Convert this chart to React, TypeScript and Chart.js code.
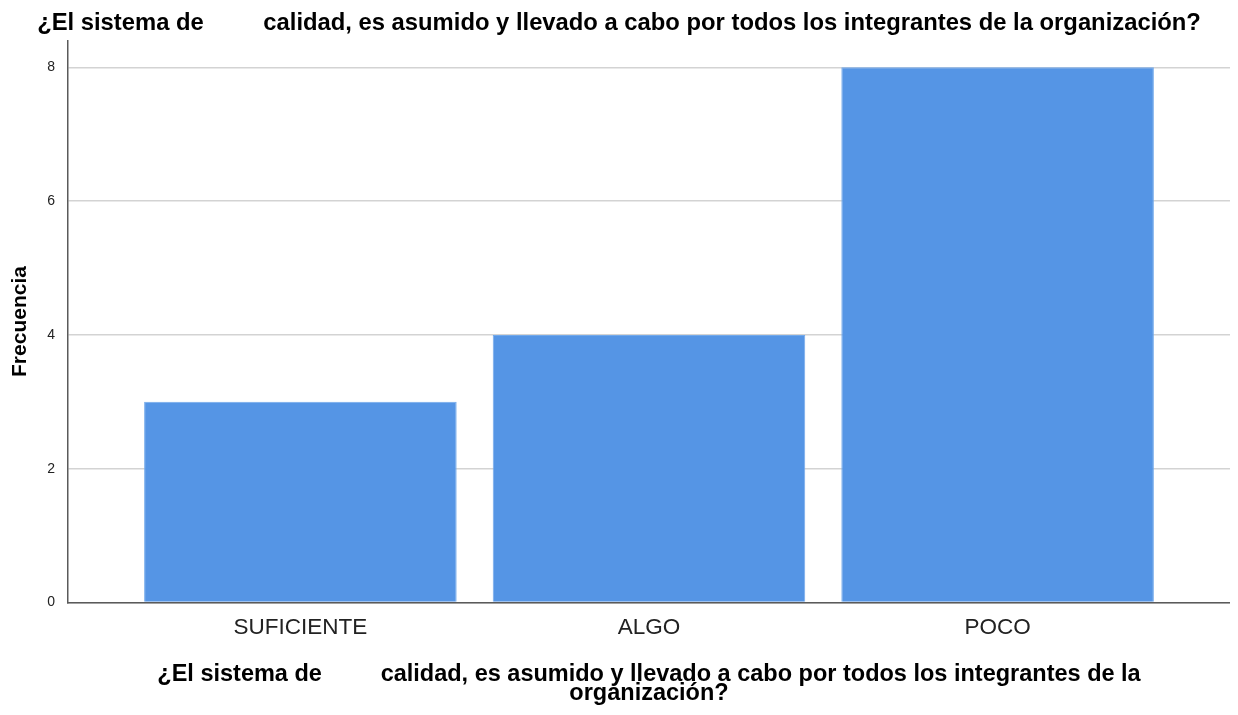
import React, { useEffect, useRef } from "react";
import { Chart, registerables } from "chart.js";

Chart.register(...registerables);

const categories: string[] = ["SUFICIENTE", "ALGO", "POCO"];
const frecuencias: number[] = [3, 4, 8];
const yTicks: number[] = [0, 2, 4, 6, 8];

const GAP = "\u00A0".repeat(9);
const titleText = "¿El sistema de" + GAP + "calidad, es asumido y llevado a cabo por todos los integrantes de la organización?";
const xTitleLines: string[] = [
  "¿El sistema de" + GAP + "calidad, es asumido y llevado a cabo por todos los integrantes de la",
  "organización?",
];
const yTitle = "Frecuencia";

const FONT = "Arial, 'Liberation Sans', Helvetica, sans-serif";

export default function App() {
  const ref = useRef<HTMLCanvasElement | null>(null);

  useEffect(() => {
    if (!ref.current) return;
    const chart = new Chart(ref.current, {
      type: "bar",
      data: {
        datasets: [
          {
            label: yTitle,
            data: categories.map((_, i) => ({ x: i, y: frecuencias[i] })),
            backgroundColor: "#5595e5",
            borderColor: "#72a9eb",
            borderWidth: 1,
            barPercentage: 312 / 348,
            categoryPercentage: 1,
          },
        ],
      },
      options: {
        animation: false,
        responsive: true,
        maintainAspectRatio: false,
        layout: { padding: { left: 0, right: 0, top: 0, bottom: 0 } },
        plugins: {
          legend: { display: false },
          tooltip: { enabled: false },
          title: {
            display: true,
            text: titleText,
            color: "#000",
            font: { family: FONT, size: 23.8, weight: "bold", lineHeight: 1.2 },
            padding: { top: 1, bottom: 3 },
          },
        },
        scales: {
          x: {
            type: "linear",
            offset: false,
            min: -0.5 - 58 / 348,
            max: categories.length - 0.5 + 58 / 348,
            afterBuildTicks: (scale: any) => {
              scale.ticks = categories.map((_, i) => ({ value: i }));
            },
            ticks: {
              autoSkip: false,
              maxRotation: 0,
              color: "#222",
              padding: 12,
              font: { family: FONT, size: 22.5 },
              callback: (v: any) => categories[Math.round(Number(v))] ?? "",
            },
            grid: { color: "rgba(0,0,0,0)", drawTicks: false, offset: false },
            border: { display: true, color: "#5a5a5a", width: 1.5 },
            title: {
              display: true,
              text: xTitleLines,
              color: "#000",
              font: { family: FONT, size: 23.5, weight: "bold", lineHeight: 0.82 },
              padding: { top: 11, bottom: 4 },
            },
          },
          y: {
            type: "linear",
            min: 0,
            max: 8.4,
            afterBuildTicks: (scale: any) => {
              scale.ticks = yTicks.map((v) => ({ value: v }));
            },
            ticks: {
              color: "#222",
              padding: 13,
              font: { family: FONT, size: 14 },
            },
            grid: { color: "#d3d3d3", lineWidth: 1.5, drawTicks: false },
            border: { display: true, color: "#5a5a5a", width: 1.5 },
            title: {
              display: true,
              text: yTitle,
              color: "#000",
              font: { family: FONT, size: 21, weight: "bold", lineHeight: 1.2 },
              padding: { top: 0, bottom: 1 },
            },
          },
        },
      },
    });
    return () => chart.destroy();
  }, []);

  return (
    <div style={{ width: 1222, height: 699, position: "relative" }}>
      <canvas ref={ref} />
    </div>
  );
}
